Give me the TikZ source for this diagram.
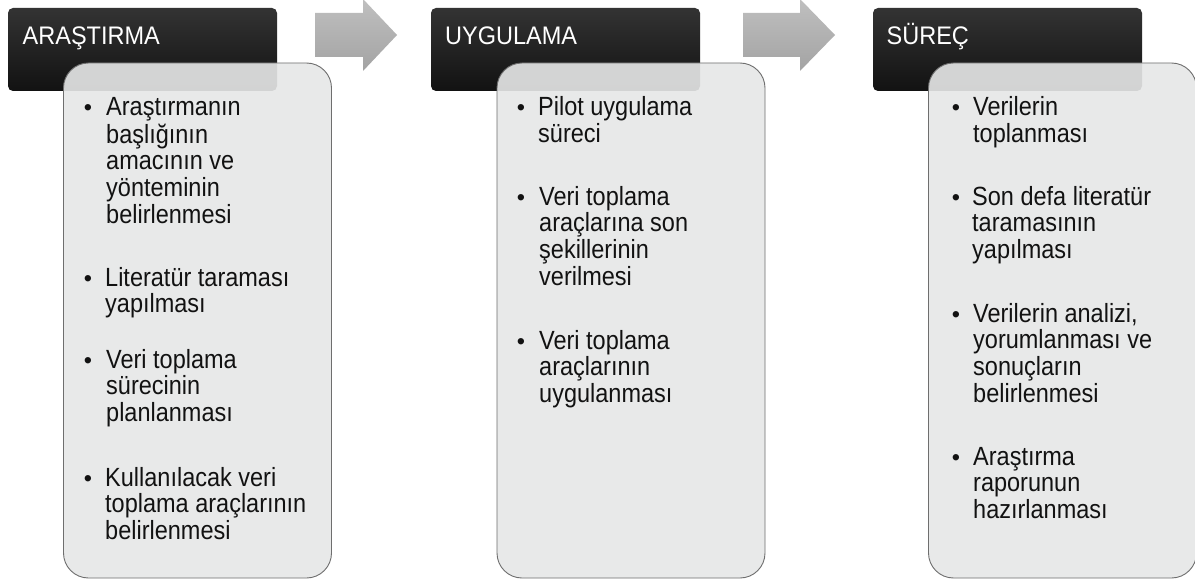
\documentclass[tikz,border=0pt]{standalone}
\usepackage{fontspec}
\setmainfont{Liberation Sans}
\usepackage{graphicx}
\definecolor{panelfill}{HTML}{E6E7E7}
\definecolor{panelline}{HTML}{6E6E6E}
\definecolor{bodyink}{HTML}{121212}
% text lines stretched vertically, first baseline kept as node baseline
\newcommand\itemlines[2][1.12]{\scalebox{1}[#1]{\begin{tabular}[t]{@{}l@{}}#2\end{tabular}}}
\begin{document}
\begin{tikzpicture}[x=1pt,y=-1pt,
  header/.style={rounded corners=5pt, top color=black!80, bottom color=black!93,
    draw=none, minimum width=269pt, minimum height=83pt, anchor=north west,
    inner sep=0pt, outer sep=0pt},
  panel/.style={rounded corners=25pt, fill=panelfill, fill opacity=0.91,
    draw=panelline, line width=0.9pt, minimum width=268pt, minimum height=515pt,
    anchor=north west, inner sep=0pt, outer sep=0pt},
  arrowshade/.style={top color=black!25, bottom color=black!36, draw=none},
  headtxt/.style={anchor=base west, inner sep=0pt, text=white,
    font=\fontsize{23.5}{23.5}\selectfont},
  bodytxt/.style={anchor=base west, inner sep=0pt, text=bodyink,
    font=\fontsize{23.5}{23.5}\selectfont},
  bul/.style={anchor=base, inner sep=0pt, text=bodyink,
    font=\fontsize{23.5}{23.5}\selectfont}]
\useasboundingbox (0,0) rectangle (1195,583);
\fill[white] (0,0) rectangle (1195,583);

% dark title tabs
\node[header] (h1) at (8,8) {};
\node[header] (h2) at (431,8) {};
\node[header] (h3) at (873,8) {};

% light content panels, slightly see-through over the tabs
\node[panel] (p1) at (63.5,63) {};
\node[panel] (p2) at (497,63) {};
\node[panel] (p3) at (928.5,63) {};

% block arrows between the stages
\path[arrowshade] (315,13) -- (363,13) -- (363,-1) -- (397,35) -- (363,71)
  -- (363,57) -- (315,57) -- cycle;
\path[arrowshade] (743,13) -- (800,13) -- (800,-1) -- (835,35) -- (800,71)
  -- (800,57) -- (743,57) -- cycle;

% tab titles
\node[headtxt] (t1) at ([shift={(14.5,37)}]h1.north west) {\itemlines[1.08]{ARAŞTIRMA}};
\node[headtxt] (t2) at ([shift={(14,37)}]h2.north west) {\itemlines[1.08]{UYGULAMA}};
\node[headtxt] (t3) at ([shift={(13.5,37)}]h3.north west) {\itemlines[1.08]{SÜREÇ}};

% first panel
\node[bul] (b11) at (88,116) {•};
\node[bodytxt] (i11) at (106,116) {\itemlines{Araştırmanın\\başlığının\\amacının ve\\yönteminin\\belirlenmesi}};
\node[bul] (b12) at (88,286) {•};
\node[bodytxt] (i12) at (105,286) {\itemlines{Literatür taraması\\yapılması}};
\node[bul] (b13) at (88,368) {•};
\node[bodytxt] (i13) at (106,368) {\itemlines{Veri toplama\\sürecinin\\planlanması}};
\node[bul] (b14) at (88,486) {•};
\node[bodytxt] (i14) at (105,486) {\itemlines{Kullanılacak veri\\toplama araçlarının\\belirlenmesi}};

% second panel
\node[bul] (b21) at (521,116) {•};
\node[bodytxt] (i21) at (538,116) {\itemlines{Pilot uygulama\\süreci}};
\node[bul] (b22) at (521,205) {•};
\node[bodytxt] (i22) at (539,205) {\itemlines{Veri toplama\\araçlarına son\\şekillerinin\\verilmesi}};
\node[bul] (b23) at (521,349) {•};
\node[bodytxt] (i23) at (539,349) {\itemlines{Veri toplama\\araçlarının\\uygulanması}};

% third panel
\node[bul] (b31) at (956,116) {•};
\node[bodytxt] (i31) at (973,116) {\itemlines{Verilerin\\toplanması}};
\node[bul] (b32) at (956,205) {•};
\node[bodytxt] (i32) at (972,205) {\itemlines{Son defa literatür\\taramasının\\yapılması}};
\node[bul] (b33) at (956,322) {•};
\node[bodytxt] (i33) at (973,322) {\itemlines{Verilerin analizi,\\yorumlanması ve\\sonuçların\\belirlenmesi}};
\node[bul] (b34) at (956,465) {•};
\node[bodytxt] (i34) at (973,465) {\itemlines{Araştırma\\raporunun\\hazırlanması}};
\end{tikzpicture}
\end{document}
